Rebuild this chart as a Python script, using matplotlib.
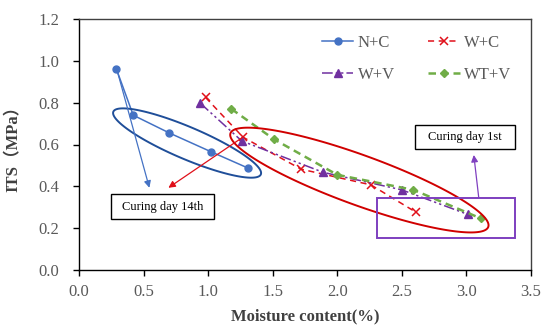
import numpy as np
import matplotlib
matplotlib.use("Agg")
import matplotlib.pyplot as plt
from matplotlib.patches import Rectangle, Polygon

# ---- data ----
nc_x = [0.29, 0.42, 0.70, 1.02, 1.31]
nc_y = [0.96, 0.74, 0.655, 0.566, 0.487]
wc_x = [0.98, 1.27, 1.72, 2.26, 2.61]
wc_y = [0.825, 0.635, 0.482, 0.407, 0.276]
wv_x = [0.94, 1.26, 1.89, 2.50, 3.01]
wv_y = [0.797, 0.617, 0.467, 0.383, 0.266]
wtv_x = [1.18, 1.51, 2.00, 2.59, 3.11]
wtv_y = [0.770, 0.625, 0.455, 0.383, 0.247]
labels = ["N+C", "W+C", "W+V", "WT+V"]
xticks = [0.0, 0.5, 1.0, 1.5, 2.0, 2.5, 3.0, 3.5]
yticks = [0.0, 0.2, 0.4, 0.6, 0.8, 1.0, 1.2]

serif = ["Liberation Serif", "Noto Sans CJK SC", "DejaVu Sans"]
plt.rcParams["font.family"] = serif

fig = plt.figure(figsize=(5.5, 3.34), dpi=100)
ax = fig.add_axes([79/550, 1-270/334, 452/550, 251/334])

blue = "#4472C4"
red = "#E0101A"
purple = "#7030A0"
green = "#70AD47"

h1, = ax.plot(nc_x, nc_y, color=blue, lw=1.1, marker="o", ms=5, label=labels[0])
h2, = ax.plot(wc_x, wc_y, color=red, lw=1.1, ls=(0, (4, 3)), marker="x", ms=5.5, mew=1.1, label=labels[1])
h3, = ax.plot(wv_x, wv_y, color=purple, lw=1.1, ls=(0, (7, 2, 1.5, 2, 1.5, 2)), marker="^", ms=5.5, label=labels[2])
h4, = ax.plot(wtv_x, wtv_y, color=green, lw=1.8, ls=(0, (3, 2)), marker="D", ms=4, label=labels[3])

ax.set_xlim(0, 3.5)
ax.set_ylim(0, 1.2)
ax.set_xticks(xticks)
ax.set_yticks(yticks)
ax.set_xticklabels([f"{v:.1f}" for v in xticks])
ax.set_yticklabels([f"{v:.1f}" for v in yticks])
ax.tick_params(direction="out", length=4, width=1, colors="black", labelcolor="#595959", labelsize=12)
ax.tick_params(axis="y", pad=10)
ax.tick_params(axis="x", pad=6)
for s in ax.spines.values():
    s.set_color("black")
    s.set_linewidth(1.0)
ax.spines["right"].set_color("#404040")
ax.spines["top"].set_color("#404040")

ax.set_xlabel("Moisture content(%)", fontsize=12, fontweight="bold", color="#404040", labelpad=6)
ax.set_ylabel("ITS（MPa）", fontsize=12, fontweight="bold", color="#404040", labelpad=12)

# ---- ellipses (annotation shapes) ----
def ell(cx, cy, A, B, color, lw):
    t = np.linspace(0, 2*np.pi, 200)
    xs = cx + np.cos(t)*A[0] + np.sin(t)*B[0]
    ys = cy + np.cos(t)*A[1] + np.sin(t)*B[1]
    ax.add_patch(Polygon(np.column_stack([xs, ys]), closed=True, fill=False, ec=color, lw=lw, zorder=3))

ell(0.837, 0.607, (0.571, -0.150), (-0.0485, -0.0704), "#1F4E99", 1.4)
ell(2.171, 0.430, (0.998, -0.224), (-0.0663, -0.112), "#D00000", 1.4)

# purple rectangle
ax.add_patch(Rectangle((2.308, 0.152), 3.374-2.308, 0.343-0.152, fill=False, ec="#7E3FBF", lw=1.4, zorder=3))

# text boxes
ax.add_patch(Rectangle((0.248, 0.242), 1.049-0.248, 0.363-0.242, fill=False, ec="black", lw=1.0, zorder=3))
ax.text(0.648, 0.302, "Curing day 14th", fontsize=9, ha="center", va="center", color="black")
ax.add_patch(Rectangle((2.605, 0.578), 3.374-2.605, 0.693-0.578, fill=False, ec="black", lw=1.0, zorder=3))
ax.text(2.99, 0.635, "Curing day 1st", fontsize=9, ha="center", va="center", color="black")

# arrows
ax.annotate("", xy=(0.545, 0.393), xytext=(0.292, 0.961),
            arrowprops=dict(arrowstyle="-|>", color=blue, lw=0.9, mutation_scale=10, shrinkA=0, shrinkB=0))
ax.annotate("", xy=(0.692, 0.393), xytext=(1.271, 0.636),
            arrowprops=dict(arrowstyle="-|>", color=red, lw=0.9, mutation_scale=10, shrinkA=0, shrinkB=0))
ax.annotate("", xy=(3.057, 0.550), xytext=(3.095, 0.348),
            arrowprops=dict(arrowstyle="-|>", color="#8040C0", lw=0.9, mutation_scale=10, shrinkA=0, shrinkB=0))

leg = ax.legend([h1, h3, h2, h4], [labels[0], labels[2], labels[1], labels[3]],
                ncol=2, loc="upper left", bbox_to_anchor=(0.537, 0.935), frameon=False,
                fontsize=12, handlelength=1.9, handletextpad=0.25, columnspacing=2.0,
                labelspacing=0.95, borderpad=0, borderaxespad=0)
for t in leg.get_texts():
    t.set_color("#595959")

fig.savefig("out.png", dpi=100)
